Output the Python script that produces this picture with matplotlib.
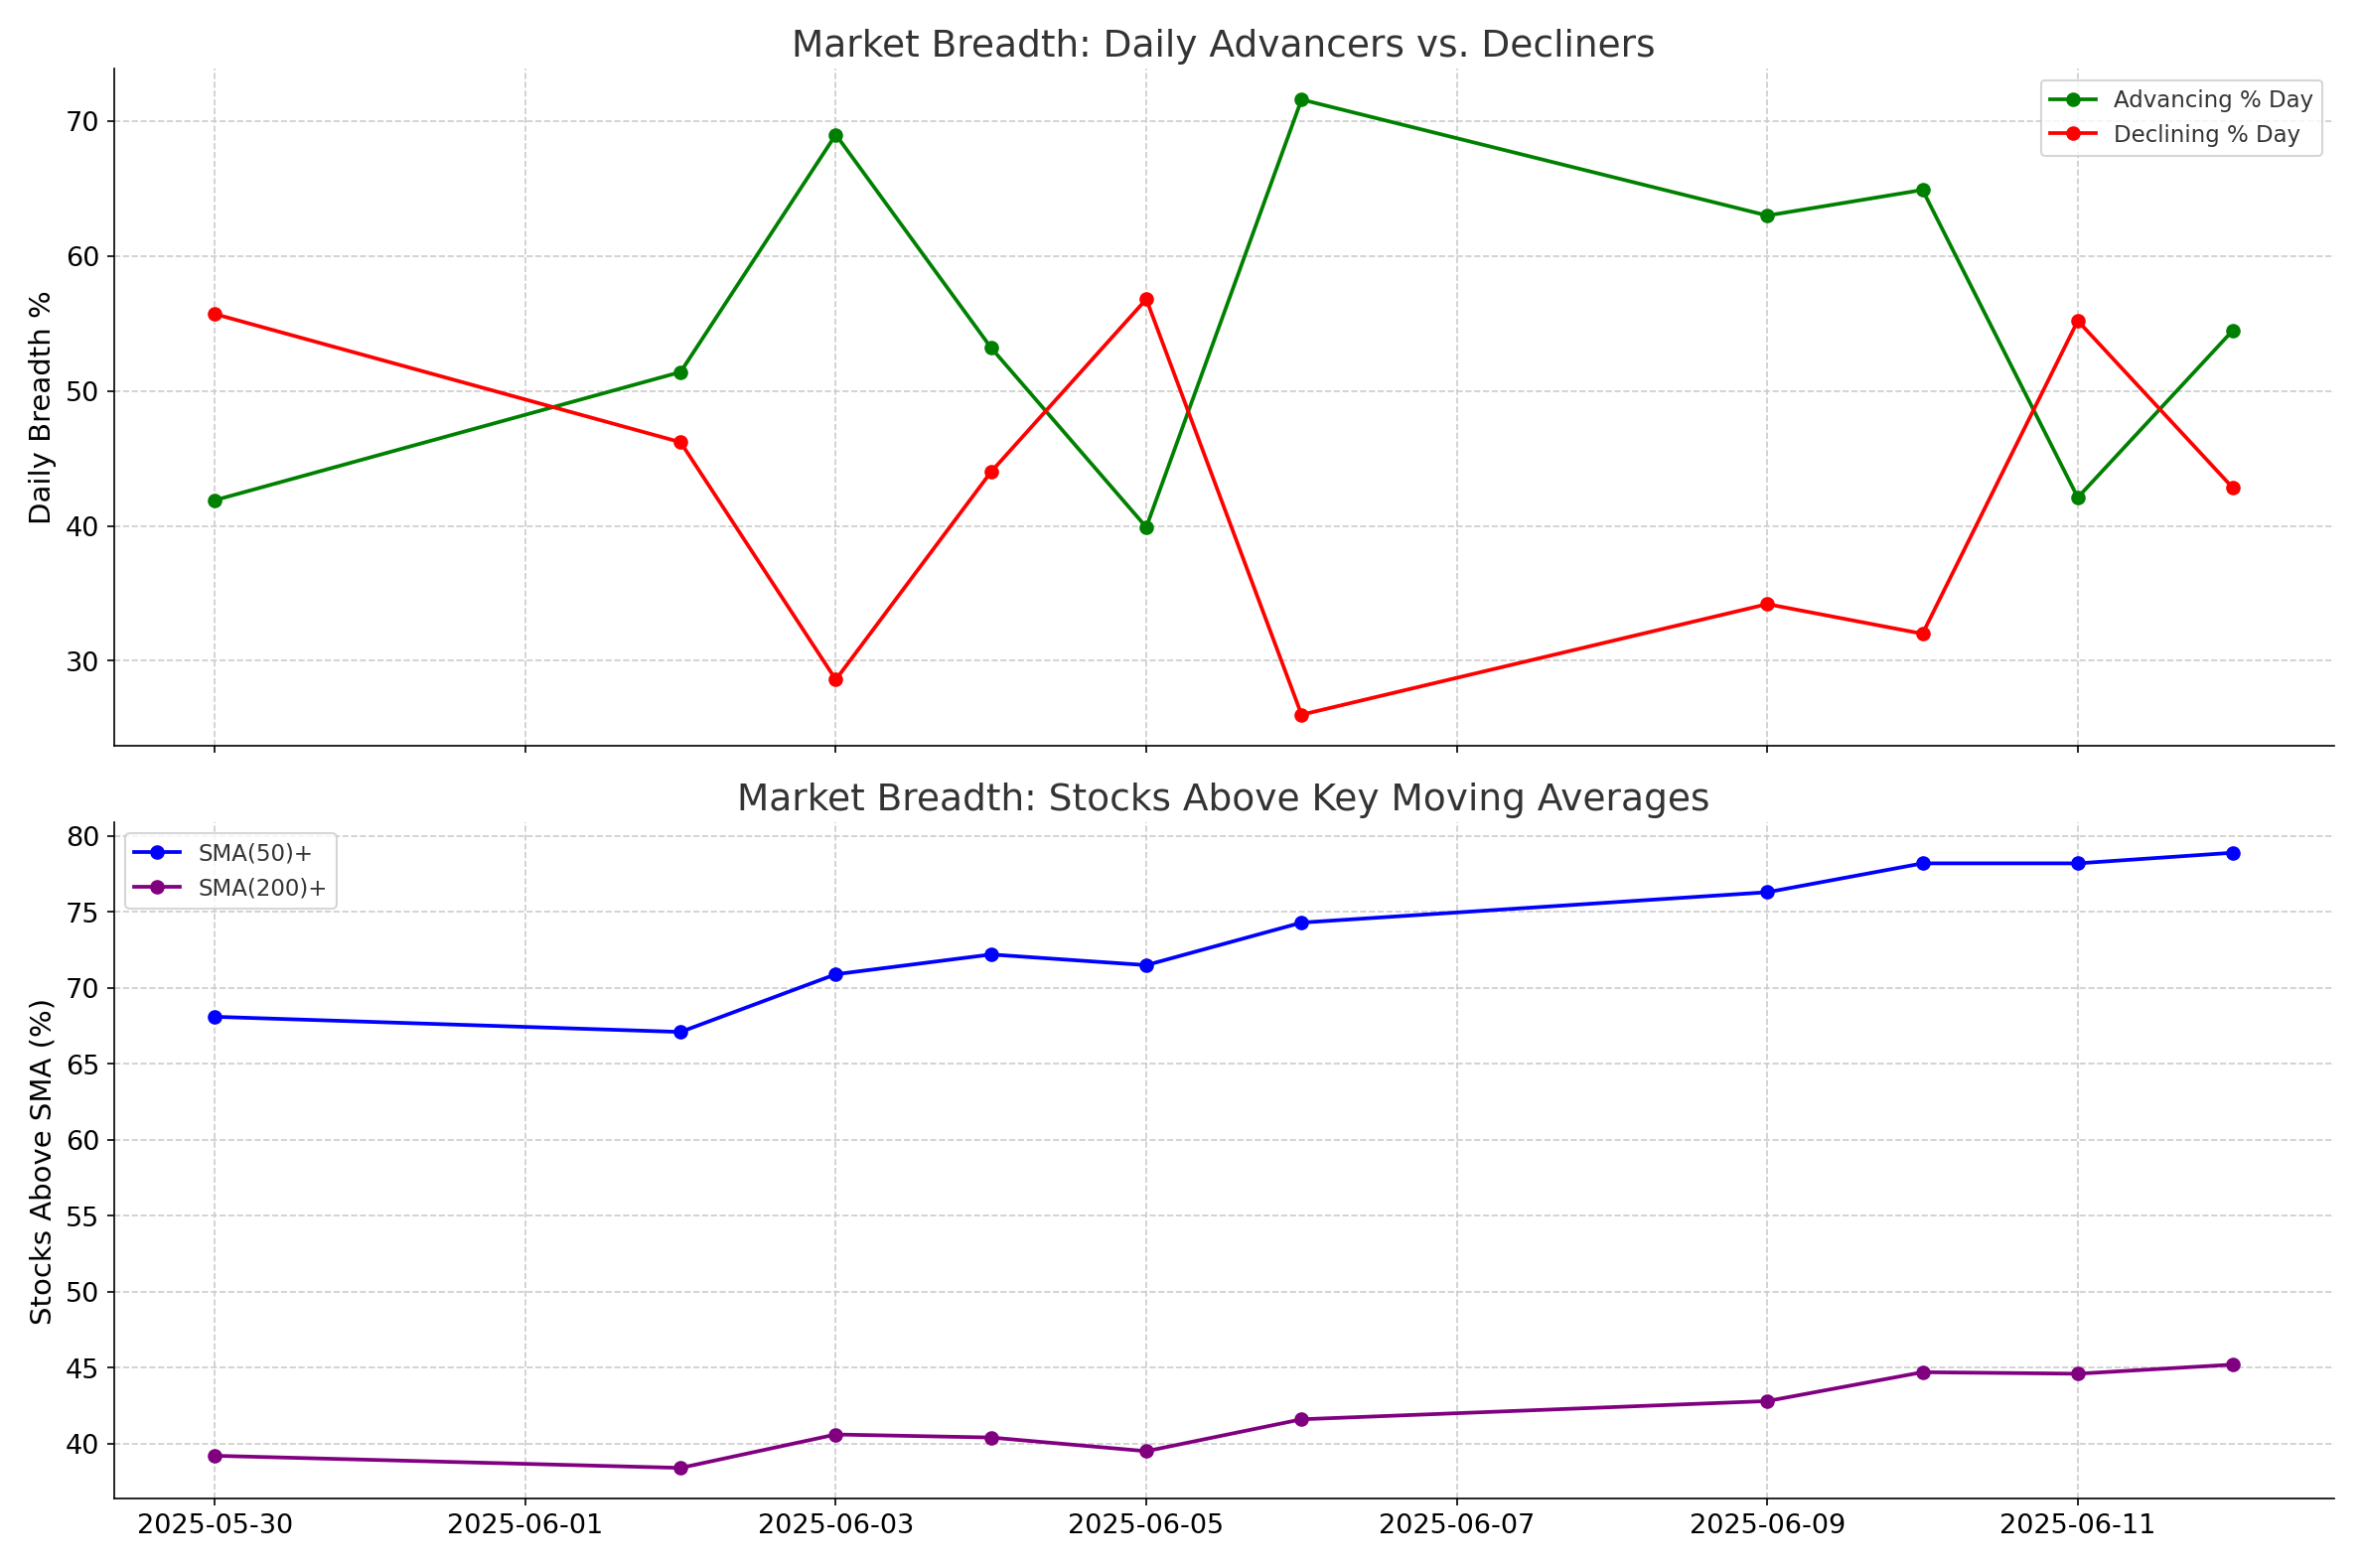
import matplotlib
matplotlib.use("Agg")
import matplotlib.pyplot as plt
import matplotlib.dates as mdates
import pandas as pd

fechas = pd.to_datetime([
    "2025-05-30", "2025-06-02", "2025-06-03", "2025-06-04", "2025-06-05",
    "2025-06-06", "2025-06-09", "2025-06-10", "2025-06-11", "2025-06-12",
])
avanzan = [41.9, 51.4, 69.0, 53.2, 39.9, 71.6, 63.0, 64.9, 42.1, 54.5]
declinan = [55.7, 46.2, 28.6, 44.0, 56.8, 26.0, 34.2, 32.0, 55.2, 42.8]
sma50 = [68.1, 67.1, 70.9, 72.2, 71.5, 74.3, 76.3, 78.2, 78.2, 78.9]
sma200 = [39.2, 38.4, 40.6, 40.4, 39.5, 41.6, 42.8, 44.7, 44.6, 45.2]
ticks_x = pd.to_datetime([
    "2025-05-30", "2025-06-01", "2025-06-03", "2025-06-05",
    "2025-06-07", "2025-06-09", "2025-06-11",
])

plt.rcParams.update({"font.size": 13, "text.color": "#333333"})
fig, (ax1, ax2) = plt.subplots(2, 1, figsize=(15.86, 10.53), dpi=150, sharex=True)


def estilo(ax):
    ax.spines["top"].set_visible(False)
    ax.spines["right"].set_visible(False)
    ax.grid(True, linestyle="--", color="#cccccc", linewidth=0.8)
    ax.tick_params(labelsize=13)


ax1.plot(fechas, avanzan, color="green", marker="o", lw=1.8, ms=6, label="Advancing % Day")
ax1.plot(fechas, declinan, color="red", marker="o", lw=1.8, ms=6, label="Declining % Day")
ax1.set_title("Market Breadth: Daily Advancers vs. Decliners", fontsize=18)
ax1.set_ylabel("Daily Breadth %", fontsize=14)
ax1.legend(loc="upper right", fontsize=11)
estilo(ax1)

ax2.plot(fechas, sma50, color="blue", marker="o", lw=1.8, ms=6, label="SMA(50)+")
ax2.plot(fechas, sma200, color="purple", marker="o", lw=1.8, ms=6, label="SMA(200)+")
ax2.set_title("Market Breadth: Stocks Above Key Moving Averages", fontsize=18)
ax2.set_ylabel("Stocks Above SMA (%)", fontsize=14)
ax2.set_yticks(range(40, 81, 5))
ax2.legend(loc="upper left", fontsize=11)
estilo(ax2)
ax2.set_xticks(ticks_x)
ax2.xaxis.set_major_formatter(mdates.DateFormatter("%Y-%m-%d"))
ax2.margins(x=0.05)

fig.tight_layout()
fig.savefig("out.png")
